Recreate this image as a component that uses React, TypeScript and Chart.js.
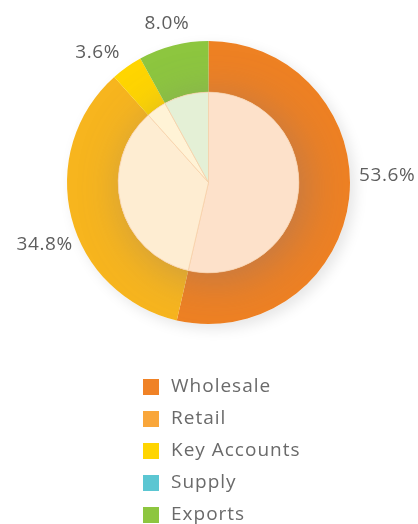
import React, { useEffect, useRef } from "react";
import { Chart, registerables } from "chart.js";

Chart.register(...registerables);

const categories = ["Wholesale", "Retail", "Key Accounts", "Supply", "Exports"];
const shares = [53.6, 34.8, 3.6, 0, 8.0];
const pctLabels = ["53.6%", "34.8%", "3.6%", "", "8.0%"];
const ringColors = ["#EE8123", "#F7B51E", "#FFD500", "#5BC6D2", "#8DC63F"];
const innerColors = ["#FDE1CA", "#FEEDD2", "#FFF3D6", "#DDF1F3", "#E4F0D6"];
const legendColors = ["#F08226", "#F9A63A", "#FFD500", "#5BC6D2", "#8DC63F"];

const FONT = "'Open Sans', 'Noto Sans', sans-serif";

const shadowPlugin = {
  id: "ringShadows",
  beforeDatasetDraw(chart: any, args: any) {
    const meta = chart.getDatasetMeta(args.index);
    const arc = meta.data[0];
    if (!arc) return;
    const { x, y, outerRadius } = arc.getProps(["x", "y", "outerRadius"], true);
    const ctx = chart.ctx;
    ctx.save();
    if (args.index === 0) {
      ctx.shadowColor = "rgba(0,0,0,0.10)";
      ctx.shadowBlur = 14;
      ctx.shadowOffsetX = 5;
      ctx.shadowOffsetY = 5;
      ctx.fillStyle = "#ffffff";
    } else {
      const outer = chart.getDatasetMeta(0).data[0];
      ctx.beginPath();
      ctx.arc(x, y, outer.outerRadius, 0, Math.PI * 2);
      ctx.clip();
      ctx.shadowColor = "rgba(120,110,130,0.42)";
      ctx.shadowBlur = 46;
      ctx.shadowOffsetX = 7;
      ctx.shadowOffsetY = 6;
      ctx.fillStyle = innerColors[0];
    }
    ctx.beginPath();
    ctx.arc(x, y, outerRadius, 0, Math.PI * 2);
    ctx.fill();
    ctx.restore();
  },
};

const labelNudge = [
  { dx: 0, dy: -24, align: "left" },
  { dx: 11, dy: 24, align: "right" },
  { dx: -1, dy: -6, align: "right" },
  { dx: 0, dy: 0, align: "center" },
  { dx: -4, dy: -12, align: "center" },
];

const labelPlugin = {
  id: "pctLabels",
  afterDatasetsDraw(chart: any) {
    const ctx = chart.ctx;
    const meta = chart.getDatasetMeta(0);
    ctx.save();
    ctx.font = `400 19px ${FONT}`;
    (ctx as any).letterSpacing = "0.6px";
    ctx.fillStyle = "#5e5e5e";
    ctx.textBaseline = "middle";
    meta.data.forEach((arc: any, i: number) => {
      if (!pctLabels[i]) return;
      const { x, y, startAngle, endAngle, outerRadius } = arc.getProps(
        ["x", "y", "startAngle", "endAngle", "outerRadius"],
        true
      );
      const mid = (startAngle + endAngle) / 2;
      const r = outerRadius + 10;
      const n = labelNudge[i];
      ctx.textAlign = n.align;
      ctx.fillText(pctLabels[i], x + Math.cos(mid) * r + n.dx, y + Math.sin(mid) * r + n.dy);
    });
    ctx.restore();
  },
};

const legendPlugin = {
  id: "listLegend",
  afterDraw(chart: any) {
    const ctx = chart.ctx;
    ctx.save();
    ctx.font = `400 19px ${FONT}`;
    (ctx as any).letterSpacing = "1px";
    ctx.textBaseline = "middle";
    ctx.textAlign = "left";
    const left = 143;
    const top = 379;
    const step = 32;
    categories.forEach((c, i) => {
      const y = top + i * step;
      ctx.fillStyle = legendColors[i];
      ctx.fillRect(left, y, 16, 16);
      ctx.fillStyle = "#6a6a6a";
      ctx.fillText(c, left + 28, y + 8);
    });
    ctx.restore();
  },
};

export default function App() {
  const ref = useRef<HTMLCanvasElement | null>(null);
  useEffect(() => {
    document.body.style.margin = "0";
    const chart = new Chart(ref.current as HTMLCanvasElement, {
      type: "doughnut",
      data: {
        labels: categories,
        datasets: [
          {
            data: shares,
            backgroundColor: ringColors,
            borderWidth: 0,
            weight: 51,
            order: 1,
            hoverOffset: 0,
            offset: 0,
          } as any,
          {
            data: shares,
            backgroundColor: innerColors,
            borderColor: "#F6CFA6",
            borderWidth: 0.7,
            weight: 90,
            order: 0,
            hoverOffset: 0,
            offset: 0,
          } as any,
        ],
      },
      options: {
        animation: false,
        responsive: false,
        cutout: 0,
        spacing: 0,
        layout: { padding: { left: 67, right: 68, top: 41, bottom: 200 } },
        plugins: {
          legend: { display: false },
          tooltip: { enabled: false },
        },
        events: [],
      } as any,
      plugins: [shadowPlugin, labelPlugin, legendPlugin],
    });
    return () => chart.destroy();
  }, []);
  return <canvas ref={ref} width={418} height={524} style={{ display: "block" }} />;
}
